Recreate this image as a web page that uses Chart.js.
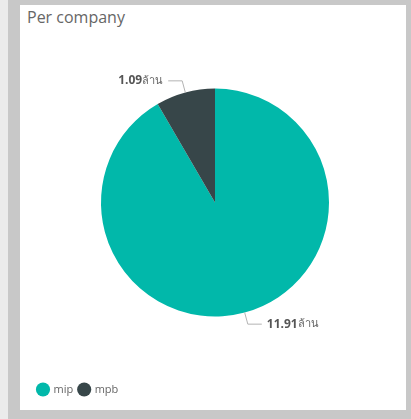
<!DOCTYPE html>
<html>
<head>
<meta charset="utf-8">
<script src="https://cdn.jsdelivr.net/npm/chart.js@4"></script>
<style>
	html, body { margin: 0; padding: 0; }
	body { width: 411px; height: 419px; background: #c8c8c8; position: relative; overflow: hidden; font-family: "Open Sans", sans-serif; }
	#strip { position: absolute; left: 0; top: 0; width: 8px; height: 419px; background: #ebebeb; }
	#panel { position: absolute; left: 20px; top: 5px; width: 386px; height: 405px; background: #fff; }
	#title { position: absolute; left: 7px; top: 1px; font-size: 16px; color: #666; }
	#wrap { position: absolute; left: 0; top: 0; width: 386px; height: 405px; }
</style>
</head>
<body>
<div id="strip"></div>
<div id="panel">
	<div id="title">Per company</div>
	<div id="wrap"><canvas id="myChart"></canvas></div>
</div>
<script>
// values in millions (ล้าน)
const companies = ["mip", "mpb"];
const amounts = [11.91, 1.09];
const valueLabels = ["11.91", "1.09"];
const unit = "ล้าน";
const colors = ["#01B8AA", "#374649"];

// leader lines + data labels outside the slices
const outsideLabels = {
	id: "outsideLabels",
	afterDatasetsDraw(chart) {
		const ctx = chart.ctx;
		const arcs = chart.getDatasetMeta(0).data;
		arcs.forEach((arc, i) => {
			const mid = (arc.startAngle + arc.endAngle) / 2;
			const r = arc.outerRadius;
			const x0 = arc.x + Math.cos(mid) * r;
			const y0 = arc.y + Math.sin(mid) * r;
			const x1 = arc.x + Math.cos(mid) * (r + 12);
			const y1 = arc.y + Math.sin(mid) * (r + 12);
			const right = Math.cos(mid) >= 0;
			const x2 = x1 + (right ? 14 : -14);
			ctx.save();
			ctx.strokeStyle = "#b3b3b3";
			ctx.lineWidth = 1;
			ctx.beginPath();
			ctx.moveTo(x0, y0);
			ctx.lineTo(x1, y1);
			ctx.lineTo(x2, y1);
			ctx.stroke();
			ctx.textBaseline = "middle";
			ctx.fillStyle = "#555";
			ctx.font = "bold 12px 'Open Sans', sans-serif";
			const numW = ctx.measureText(valueLabels[i]).width;
			ctx.font = "11px 'Noto Sans', sans-serif";
			const unitW = ctx.measureText(unit).width;
			let tx = right ? x2 + 5 : x2 - 5 - numW - unitW;
			ctx.font = "bold 12px 'Open Sans', sans-serif";
			ctx.textAlign = "left";
			ctx.fillText(valueLabels[i], tx, y1);
			ctx.font = "11px 'Noto Sans', sans-serif";
			ctx.fillStyle = "#666";
			ctx.fillText(unit, tx + numW, y1);
			ctx.restore();
		});
	},
};

window.addEventListener("load", setup);

function setup() {
	const ctx = document.getElementById("myChart").getContext("2d");
	new Chart(ctx, {
		type: "pie",
		data: {
			labels: companies,
			datasets: [
				{
					data: amounts,
					backgroundColor: colors,
					borderWidth: 0,
					radius: 114,
				},
			],
		},
		options: {
			responsive: true,
			maintainAspectRatio: false,
			animation: false,
			layout: { padding: { top: 22, bottom: 5, left: 12, right: 8 } },
			plugins: {
				legend: {
					position: "bottom",
					align: "start",
					labels: {
						usePointStyle: true,
						pointStyle: "circle",
						boxWidth: 10,
						boxHeight: 10,
						padding: 6,
						color: "#666",
						font: { family: "'Open Sans', sans-serif", size: 11 },
					},
				},
				tooltip: { enabled: false },
			},
		},
		plugins: [outsideLabels],
	});
}
</script>
</body>
</html>
